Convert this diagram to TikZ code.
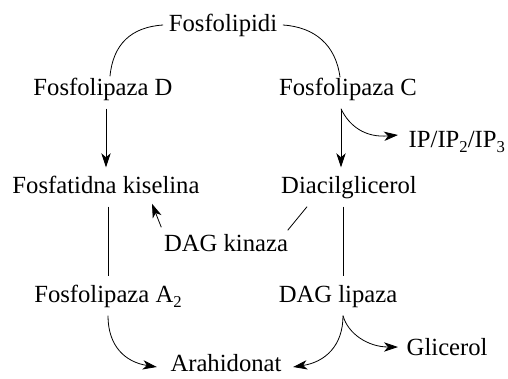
\documentclass[tikz,border=0pt]{standalone}
\usepackage{fontspec}
\setmainfont{Liberation Serif}
\usetikzlibrary{arrows.meta,calc}
\newcommand{\lowsub}[1]{\raisebox{-0.5ex}{\fontsize{12.5}{12.5}\selectfont #1}}
\tikzset{
  lbl/.style={anchor=base, inner xsep=4pt, inner ysep=6pt, text height=13pt, text depth=4pt, font=\fontsize{18.5}{22}\selectfont},
  arr/.style={-{Stealth[length=10.5pt,width=7pt,inset=3pt]}}
}
\begin{document}
\begin{tikzpicture}[x=0.75pt,y=0.75pt,yscale=-1,xscale=1,line width=0.6pt]
        \useasboundingbox (0,0) rectangle (508,379);

        % Text Node
        \node[lbl] (fosf) at (223,31) {Fosfolipidi};
        % Text Node
        \node[lbl] (plD) at (103,95) {Fosfolipaza D};
        % Text Node
        \node[lbl] (plC) at (348,95) {Fosfolipaza C};
        % Text Node
        \node[lbl,anchor=base west] (ip) at (403,147) {IP/IP\lowsub{2}/IP\lowsub{3}};
        % Text Node
        \node[lbl] (pa) at (106,193) {Fosfatidna kiselina};
        % Text Node
        \node[lbl] (dag) at (349,193) {Diacilglicerol};
        % Text Node
        \node[lbl] (dagk) at (226,251) {DAG kinaza};
        % Text Node
        \node[lbl] (plA) at (108,302) {Fosfolipaza A\lowsub{2}};
        % Text Node
        \node[lbl] (dagl) at (338,302) {DAG lipaza};
        % Text Node
        \node[lbl,anchor=base west] (glic) at (401,355) {Glicerol};
        % Text Node
        \node[lbl] (arah) at (226,371) {Arahidonat};

        %Curve Lines
        \draw (fosf.west) .. controls +(-32,2) and +(3,-32) .. ($(plD.north)+(7,7)$);
        \draw (fosf.east) .. controls +(32,2) and +(-4,-32) .. ($(plC.north)+(-8,8)$);

        %Straight Lines
        \draw[arr] (plD.south -| pa.north) -- (pa.north);
        \coordinate (cC) at ($(plC.south)+(-7,0)$);
        \draw[arr] (cC) -- (cC |- dag.north);
        \draw[arr] (cC) .. controls +(8,17) and +(-33,3) .. ($(ip.west)+(-5,-6)$);

        %Straight Lines
        \draw (pa.south -| plA.north) -- (plA.north);
        \coordinate (cD) at ($(dag.south)+(-6,0)$);
        \draw (cD) -- (cD |- dagl.north);
        \draw ($(dag.south)+(-42,0)$) -- ($(dagk.north east)+(-6,5)$);
        \draw[arr] ($(dagk.north west)+(3,2)$) -- ($(pa.south)+(46,-3)$);

        %Curve Lines
        \draw[arr] (plA.south) .. controls +(0,30) and +(-32,-5) .. ($(arah.west)+(-8,2)$);
        \coordinate (cL) at ($(dagl.south)+(5,0)$);
        \draw[arr] (cL) .. controls +(0,30) and +(32,-5) .. ($(arah.east)+(6,2)$);
        \draw[arr] (cL) .. controls +(5,18) and +(-30,0) .. ($(glic.west)+(-3,-2)$);

\end{tikzpicture}
\end{document}
